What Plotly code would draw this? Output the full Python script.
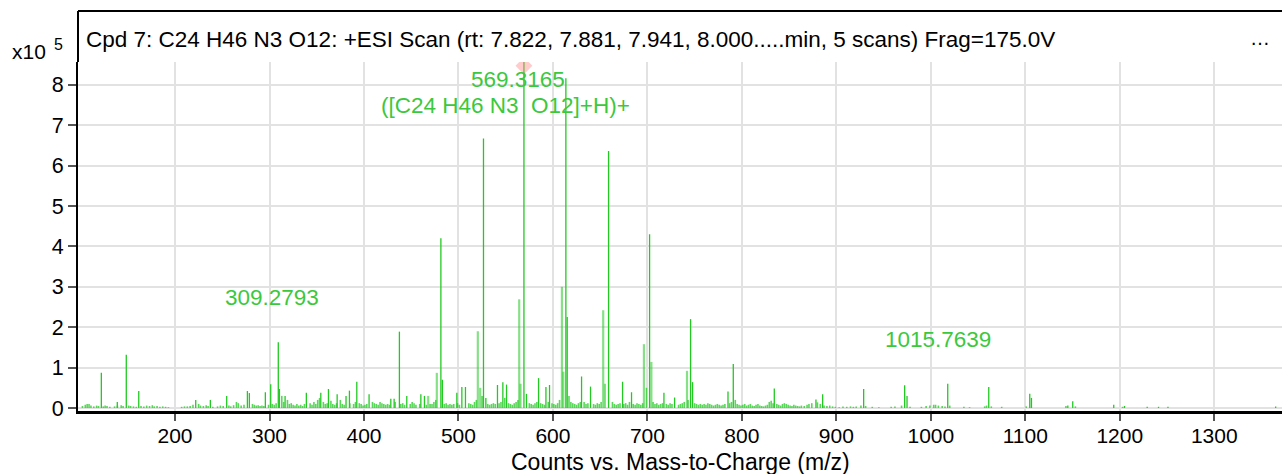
import plotly.graph_objects as go

# ---------------- data ----------------
# bright (main) peaks: m/z and intensity (x10^5 counts)
peak_mz = [569.3165, 613.7, 526.5, 658.9, 481.4, 702.3, 745.7, 615.1, 437.5, 309.3,
           148.4, 122.0, 790.9, 483.0, 630.3, 673.7, 584.8, 596.4, 592.6, 547.0,
           541.3, 550.9, 503.6, 507.4, 498.3, 639.8, 683.2, 717.5, 728.8, 785.3,
           834.3, 885.5, 928.9, 972.3, 974.8, 1017.9, 1061.3, 1104.7, 1106.5, 1150.2,
           161.6, 138.9, 221.9, 237.4, 254.7, 276.6, 278.7, 295.6, 301.3, 310.5,
           316.5, 339.0, 354.3, 362.4, 371.6, 381.0, 384.6, 392.4, 405.4, 428.4,
           431.9, 445.3, 460.2, 464.0, 529.0, 572.0, 747.8, 878.4, 1145.0, 1193.6,
           1205.0, 1229.0, 1241.0, 1251.0, 1365.0]
peak_int = [8.60, 8.16, 6.67, 6.36, 4.20, 4.30, 2.20, 2.25, 1.89, 1.63,
            1.32, 0.87, 1.09, 0.70, 0.78, 0.65, 0.74, 0.57, 0.52, 0.64,
            0.57, 0.58, 0.52, 0.52, 0.38, 0.53, 0.39, 0.38, 0.26, 0.41,
            0.48, 0.34, 0.47, 0.56, 0.30, 0.60, 0.52, 0.35, 0.25, 0.17,
            0.42, 0.15, 0.20, 0.20, 0.30, 0.42, 0.37, 0.39, 0.59, 0.47,
            0.30, 0.38, 0.38, 0.47, 0.34, 0.30, 0.43, 0.65, 0.34, 0.23,
            0.23, 0.30, 0.34, 0.30, 0.25, 0.35, 0.64, 0.21, 0.06, 0.08,
            0.05, 0.03, 0.03, 0.03, 0.04]

# paler peaks (drawn lighter and wider)
pale_mz = [564.3, 609.5, 653.2, 696.3, 520.5, 477.1, 741.9, 565.7, 704.2, 611.0,
           655.0, 523.0, 468.0]
pale_int = [2.69, 3.00, 2.42, 1.58, 1.90, 0.87, 0.92, 0.60, 1.14, 0.90,
            0.60, 0.50, 0.30]

# baseline noise peaks
noise_mz = [102, 105, 107, 109, 111, 114, 117, 119, 124, 126, 128, 131, 136, 139, 143, 145,
            151, 153, 156, 159, 164, 167, 170, 173, 176, 178, 181, 184, 187, 190, 193, 207,
            210, 213, 216, 219, 225, 227, 230, 233, 235, 240, 245, 248, 251, 257, 259, 262,
            265, 267, 270, 273, 282, 284, 286, 288, 290, 292, 294, 299, 303, 305, 307, 313,
            315, 319, 321, 323, 325, 327, 329, 331, 333, 335, 337, 343, 345, 347, 349, 351,
            353, 357, 359, 361, 365, 367, 369, 371, 375, 377, 379, 385, 389, 391, 395, 397,
            399, 401, 403, 409, 411, 413, 415, 417, 419, 421, 423, 425, 427, 433, 439, 441,
            443, 449, 451, 453, 455, 459, 466, 470, 472, 474, 476, 485, 487, 489, 491, 493,
            495, 499, 501, 511, 513, 515, 517, 519, 525, 531, 533, 535, 537, 539, 543, 545,
            549, 553, 555, 557, 559, 561, 563, 575, 577, 579, 581, 583, 587, 589, 591, 595,
            599, 601, 603, 605, 607, 617, 619, 621, 623, 625, 627, 629, 633, 635, 637, 643,
            645, 647, 649, 651, 663, 665, 667, 669, 671, 675, 677, 679, 681, 685, 687, 689,
            691, 693, 695, 699, 706, 708, 710, 712, 714, 716, 720, 722, 724, 726, 733, 735,
            737, 739, 743, 750, 752, 754, 756, 758, 760, 762, 764, 766, 768, 770, 772, 774,
            776, 778, 780, 782, 787, 789, 793, 795, 797, 799, 801, 803, 805, 807, 809, 811,
            813, 815, 817, 819, 821, 823, 825, 827, 829, 831, 833, 837, 839, 841, 843, 845,
            847, 849, 851, 853, 855, 857, 859, 861, 863, 866, 869, 871, 874, 880, 883, 887,
            890, 893, 896, 899, 903, 907, 911, 915, 918, 921, 926, 931, 938, 945, 958, 962,
            969, 978, 990, 995, 999, 1003, 1005, 1008, 1012, 1015, 1020, 1035, 1041, 1057, 1059, 1064,
            1075, 1101, 1143, 1153, 1203]
noise_int = [0.05, 0.08, 0.10, 0.10, 0.06, 0.04, 0.06, 0.05, 0.04, 0.06, 0.05, 0.03, 0.04, 0.06, 0.07, 0.05,
             0.06, 0.05, 0.04, 0.03, 0.05, 0.04, 0.06, 0.05, 0.07, 0.04, 0.05, 0.03, 0.04, 0.03, 0.02, 0.03,
             0.04, 0.04, 0.05, 0.08, 0.10, 0.06, 0.05, 0.07, 0.05, 0.03, 0.04, 0.06, 0.05, 0.06, 0.04, 0.07,
             0.15, 0.12, 0.06, 0.08, 0.10, 0.08, 0.06, 0.07, 0.05, 0.06, 0.05, 0.08, 0.10, 0.08, 0.12, 0.30,
             0.15, 0.20, 0.10, 0.12, 0.08, 0.06, 0.10, 0.06, 0.08, 0.05, 0.10, 0.12, 0.08, 0.15, 0.10, 0.20,
             0.25, 0.15, 0.10, 0.12, 0.18, 0.10, 0.08, 0.12, 0.20, 0.10, 0.08, 0.12, 0.10, 0.15, 0.12, 0.10,
             0.06, 0.08, 0.10, 0.15, 0.12, 0.10, 0.08, 0.15, 0.12, 0.10, 0.08, 0.10, 0.08, 0.15, 0.10, 0.12,
             0.08, 0.10, 0.15, 0.12, 0.08, 0.10, 0.08, 0.10, 0.10, 0.15, 0.20, 0.10, 0.12, 0.08, 0.10, 0.08,
             0.10, 0.12, 0.08, 0.12, 0.10, 0.08, 0.15, 0.20, 0.30, 0.10, 0.08, 0.10, 0.12, 0.10, 0.12, 0.15,
             0.25, 0.12, 0.10, 0.08, 0.12, 0.15, 0.20, 0.12, 0.10, 0.08, 0.12, 0.15, 0.12, 0.10, 0.08, 0.15,
             0.12, 0.10, 0.08, 0.12, 0.20, 0.30, 0.15, 0.12, 0.10, 0.08, 0.12, 0.15, 0.15, 0.10, 0.12, 0.10,
             0.08, 0.12, 0.10, 0.15, 0.15, 0.10, 0.08, 0.10, 0.12, 0.10, 0.12, 0.08, 0.15, 0.10, 0.08, 0.12,
             0.10, 0.08, 0.12, 0.50, 0.15, 0.10, 0.12, 0.08, 0.10, 0.12, 0.10, 0.08, 0.12, 0.10, 0.08, 0.10,
             0.12, 0.15, 0.20, 0.12, 0.10, 0.08, 0.10, 0.08, 0.10, 0.08, 0.12, 0.10, 0.08, 0.06, 0.08, 0.10,
             0.08, 0.06, 0.08, 0.10, 0.12, 0.15, 0.20, 0.10, 0.08, 0.06, 0.08, 0.10, 0.06, 0.08, 0.10, 0.06,
             0.05, 0.08, 0.10, 0.06, 0.05, 0.04, 0.06, 0.08, 0.15, 0.18, 0.12, 0.10, 0.08, 0.06, 0.10, 0.12,
             0.10, 0.08, 0.06, 0.05, 0.08, 0.06, 0.05, 0.04, 0.06, 0.05, 0.08, 0.10, 0.12, 0.14, 0.10, 0.06,
             0.05, 0.06, 0.04, 0.03, 0.02, 0.04, 0.03, 0.04, 0.03, 0.04, 0.06, 0.05, 0.03, 0.02, 0.03, 0.04,
             0.06, 0.03, 0.03, 0.05, 0.06, 0.08, 0.08, 0.06, 0.05, 0.04, 0.06, 0.03, 0.02, 0.04, 0.06, 0.04,
             0.03, 0.04, 0.05, 0.04, 0.03]

# labels (placed in data coordinates)
label_mz = [562.5, 549.3, 302.3, 1008.1]
label_int = [8.13, 7.48, 2.73, 1.70]
label_txt = ["569.3165", "([C24 H46 N3  O12]+H)+", "309.2793", "1015.7639"]

marker_mz = [569.3165]
marker_int = [8.47]

x_ticks = [200, 300, 400, 500, 600, 700, 800, 900, 1000, 1100, 1200, 1300]
y_ticks = [0, 1, 2, 3, 4, 5, 6, 7, 8]

title_txt = ("Cpd 7: C24 H46 N3 O12: +ESI Scan (rt: 7.822, 7.881, 7.941, "
             "8.000.....min, 5 scans) Frag=175.0V")
x_title = "Counts vs. Mass-to-Charge (m/z)"

# ---------------- figure ----------------
W, H = 1282, 474
ML, MR, MT, MB = 78, 0, 62, 63
PH = H - MT - MB
PW = W - ML - MR
FONT = "Arial, Liberation Sans, Helvetica, sans-serif"
GREEN = "#22c922"
TXT_GREEN = "#3cc83c"


def px2paper_x(px):
    return (px - ML) / PW


def px2paper_y(py):
    return 1 - (py - MT) / PH


def sticks(mz, inten):
    xs, ys = [], []
    for m, h in zip(mz, inten):
        xs += [m, m, None]
        ys += [0, h, None]
    return xs, ys


fig = go.Figure()

nx, ny = sticks(noise_mz, noise_int)
fig.add_trace(go.Scatter(x=nx, y=ny, mode="lines",
                         line=dict(color="rgba(34,201,34,0.75)", width=1.6),
                         hoverinfo="skip", showlegend=False))
px_, py_ = sticks(pale_mz, pale_int)
fig.add_trace(go.Scatter(x=px_, y=py_, mode="lines",
                         line=dict(color="rgba(34,201,34,0.55)", width=2.2),
                         hoverinfo="skip", showlegend=False))
bx, by = sticks(peak_mz, peak_int)
fig.add_trace(go.Scatter(x=bx, y=by, mode="lines",
                         line=dict(color=GREEN, width=1.3),
                         hoverinfo="skip", showlegend=False))
fig.add_trace(go.Scatter(x=marker_mz, y=marker_int, mode="markers",
                         marker=dict(symbol="diamond", size=13,
                                     color="rgba(255,140,140,0.45)",
                                     line=dict(width=0)),
                         hoverinfo="skip", showlegend=False))

for xm, yv, t in zip(label_mz, label_int, label_txt):
    fig.add_annotation(x=xm, y=yv, xref="x", yref="y", text=t, showarrow=False,
                       font=dict(family=FONT, size=22.5, color=TXT_GREEN),
                       xanchor="center", yanchor="middle")

ytop = px2paper_y(11)
# title box lines
fig.add_shape(type="line", xref="paper", yref="paper", x0=0, x1=1, y0=ytop, y1=ytop,
              line=dict(color="black", width=2))
fig.add_shape(type="line", xref="paper", yref="paper", x0=0, x1=0, y0=1, y1=ytop,
              line=dict(color="black", width=2))

fig.add_annotation(xref="paper", yref="paper", x=px2paper_x(84), y=px2paper_y(40),
                   text=title_txt, showarrow=False, xanchor="left", yanchor="middle",
                   font=dict(family=FONT, size=22.5, color="black"))
fig.add_annotation(xref="paper", yref="paper", x=px2paper_x(1260), y=px2paper_y(38),
                   text="\u2026", showarrow=False, xanchor="center", yanchor="middle",
                   font=dict(family=FONT, size=20, color="black"))
fig.add_annotation(xref="paper", yref="paper", x=px2paper_x(10), y=px2paper_y(51),
                   text="x10", showarrow=False, xanchor="left", yanchor="middle",
                   font=dict(family=FONT, size=21, color="black"))
fig.add_annotation(xref="paper", yref="paper", x=px2paper_x(52), y=px2paper_y(44),
                   text="5", showarrow=False, xanchor="left", yanchor="middle",
                   font=dict(family=FONT, size=16, color="black"))
fig.add_annotation(xref="paper", yref="paper", x=px2paper_x(680), y=px2paper_y(462),
                   text=x_title, showarrow=False, xanchor="center", yanchor="middle",
                   font=dict(family=FONT, size=23, color="black"))

fig.update_layout(
    width=W, height=H,
    margin=dict(l=ML, r=MR, t=MT, b=MB, pad=0),
    paper_bgcolor="white", plot_bgcolor="white",
    font=dict(family=FONT, size=21, color="black"),
    showlegend=False,
)
fig.update_xaxes(range=[97.3, 1371.7], tickvals=x_ticks, ticks="outside", ticklen=7,
                 tickwidth=2, tickcolor="#555555", showgrid=True, gridcolor="#e2e2e2",
                 gridwidth=1.5, showline=True, linecolor="black", linewidth=3,
                 zeroline=False, tickfont=dict(size=21), ticklabelstandoff=-3)
fig.update_yaxes(range=[-3 / 40.4, 8.564], tickvals=y_ticks, ticks="outside", ticklen=8,
                 tickwidth=2, tickcolor="#555555", showgrid=True, gridcolor="#e2e2e2",
                 gridwidth=1.5, showline=True, linecolor="black", linewidth=2,
                 zeroline=False, tickfont=dict(size=21.5))

fig.write_html("out.html", config={"displayModeBar": False},
               post_script="document.body.style.margin='0';document.body.style.overflow='hidden';")
